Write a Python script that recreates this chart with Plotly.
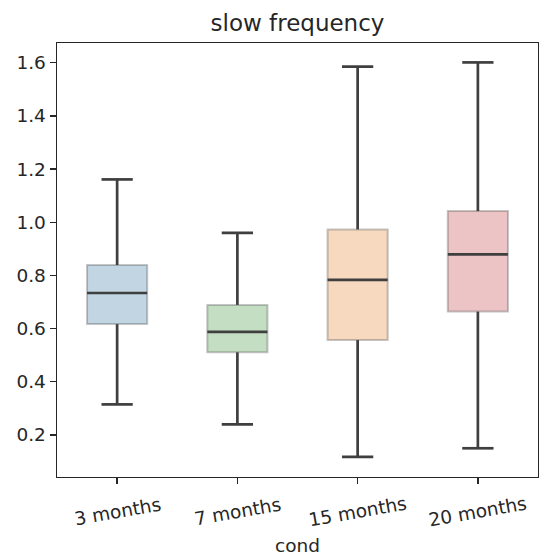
import plotly.graph_objects as go

categories = ["3 months", "7 months", "15 months", "20 months"]
whisker_low = [0.315, 0.240, 0.118, 0.150]
q1 = [0.617, 0.511, 0.557, 0.664]
median = [0.734, 0.588, 0.783, 0.879]
q3 = [0.839, 0.689, 0.973, 1.042]
whisker_high = [1.161, 0.960, 1.585, 1.601]
fill_colors = ["rgba(50,116,161,0.3)", "rgba(58,146,58,0.3)",
               "rgba(225,129,44,0.3)", "rgba(192,61,62,0.3)"]
y_ticks = [0.2, 0.4, 0.6, 0.8, 1.0, 1.2, 1.4, 1.6]

BOX_W = 0.5
CAP_W = 0.26
DARK = "#3f3f3f"
TXT = "#262626"
FONT = "DejaVu Sans"
TICK_SIZE = 18.5
TITLE_SIZE = 23

xs = list(range(len(categories)))

fig = go.Figure()

# boxes
fig.add_trace(go.Bar(
    x=xs, y=[b - a for a, b in zip(q1, q3)], base=q1, width=BOX_W,
    marker=dict(color=fill_colors, line=dict(color="rgba(63,63,63,0.3)", width=2)),
    hoverinfo="skip", showlegend=False,
))

# whiskers and caps
wx, wy = [], []
for x, lo, a, b, hi in zip(xs, whisker_low, q1, q3, whisker_high):
    wx += [x, x, None, x, x, None,
           x - CAP_W / 2, x + CAP_W / 2, None, x - CAP_W / 2, x + CAP_W / 2, None]
    wy += [lo, a, None, b, hi, None, lo, lo, None, hi, hi, None]
fig.add_trace(go.Scatter(x=wx, y=wy, mode="lines",
                         line=dict(color=DARK, width=2.7),
                         hoverinfo="skip", showlegend=False))

# medians
mx, my = [], []
for x, m in zip(xs, median):
    mx += [x - BOX_W / 2, x + BOX_W / 2, None]
    my += [m, m, None]
fig.add_trace(go.Scatter(x=mx, y=my, mode="lines",
                         line=dict(color=DARK, width=2.7),
                         hoverinfo="skip", showlegend=False))

axis_common = dict(
    showline=True, linecolor=TXT, linewidth=1.4, mirror=True,
    ticks="outside", ticklen=6, tickwidth=1.4, tickcolor=TXT,
    showgrid=False, zeroline=False, automargin=False,
    tickfont=dict(family=FONT, size=TICK_SIZE, color=TXT),
)

annotations = []
# rotated category labels, centred under each tick like matplotlib
for x, label in zip(xs, categories):
    annotations.append(dict(
        x=x, xref="x", y=0, yref="paper", text=label, showarrow=False,
        textangle=-10, xanchor="center", yanchor="middle", yshift=-34,
        font=dict(family=FONT, size=TICK_SIZE, color=TXT)))
annotations.append(dict(
    x=0.5, xref="paper", y=0, yref="paper", text="cond", showarrow=False,
    xanchor="center", yanchor="middle", yshift=-68,
    font=dict(family=FONT, size=TICK_SIZE, color=TXT)))

fig.update_layout(
    width=550, height=558,
    margin=dict(l=57, r=12, t=43, b=81),
    paper_bgcolor="white", plot_bgcolor="white",
    font=dict(family=FONT, color=TXT),
    title=dict(text="slow frequency", x=(57 + 538) / 2 / 550, xanchor="center",
               xref="container",
               y=1 - 23 / 558, yref="container", yanchor="middle",
               font=dict(family=FONT, size=TITLE_SIZE, color=TXT)),
    xaxis=dict(range=[-0.5, 3.5], tickvals=xs, ticktext=categories,
               showticklabels=False, **axis_common),
    yaxis=dict(range=[0.042, 1.674], tickvals=y_ticks,
               ticktext=[f"{v:.1f}" for v in y_ticks],
               **axis_common),
    annotations=annotations,
    bargap=0,
)

fig.write_html("out.html",
               config={"displayModeBar": False, "staticPlot": True},
               post_script="document.body.style.margin='0';document.body.style.overflow='hidden';")
